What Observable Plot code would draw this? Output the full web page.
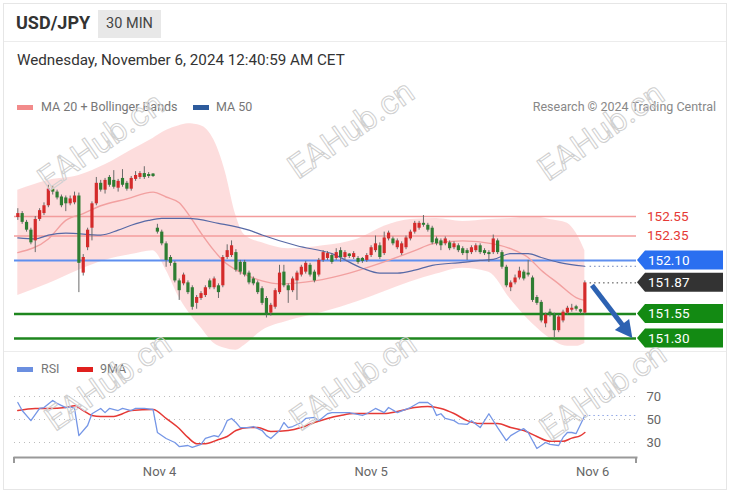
<!DOCTYPE html>
<html><head><meta charset="utf-8">
<script src="https://cdn.jsdelivr.net/npm/d3@7"></script>
<script src="https://cdn.jsdelivr.net/npm/@observablehq/plot@0.6"></script>
<style>
html,body{margin:0;padding:0;background:#fff;}
#page{position:relative;width:735px;height:495px;overflow:hidden;font-family:Roboto,"Liberation Sans",sans-serif;color:#333;}
#card{position:absolute;left:3px;top:3px;width:724px;height:487px;border:1px solid #e6e6e6;box-sizing:border-box;}
.hline{position:absolute;left:4px;width:722px;height:1px;background:#ececec;}
#pair{position:absolute;left:16px;top:12px;font-size:18px;font-weight:700;color:#333;}
#tf{position:absolute;left:98px;top:10px;width:63px;height:28px;background:#e8e8e8;font-size:14.5px;color:#444;text-align:center;line-height:28px;}
#date{position:absolute;left:17px;top:51px;font-size:15.2px;color:#333;white-space:nowrap;}
.lg{position:absolute;font-size:12.5px;color:#777;white-space:nowrap;line-height:14px;}
.sw{position:absolute;width:16px;height:5px;}
#main{position:absolute;left:0;top:115px;}
#rsi{position:absolute;left:0;top:375px;}
#wm{position:absolute;left:0;top:0;pointer-events:none;}
</style></head>
<body>
<div id="page">
  <div id="card"></div>
  <div class="hline" style="top:41px"></div>
  <div class="hline" style="top:351px"></div>
  <div id="pair">USD/JPY</div>
  <div id="tf">30 MIN</div>
  <div id="date">Wednesday, November 6, 2024 12:40:59 AM CET</div>
  <div class="sw" style="left:17px;top:105px;background:#f28b8b"></div>
  <div class="lg" style="left:41px;top:100px">MA 20 + Bollinger Bands</div>
  <div class="sw" style="left:193px;top:105px;background:#2d5b9c"></div>
  <div class="lg" style="left:216px;top:100px">MA 50</div>
  <div class="lg" style="right:19px;top:100px;color:#888">Research © 2024 Trading Central</div>
  <div class="sw" style="left:17px;top:367px;background:#6b8fe0"></div>
  <div class="lg" style="left:41px;top:362px">RSI</div>
  <div class="sw" style="left:77px;top:367px;background:#e0201e"></div>
  <div class="lg" style="left:100px;top:362px">9MA</div>
  <div id="main"></div>
  <div id="rsi"></div>
  <svg id="wm" width="735" height="495"></svg>
</div>
<script>
// ---------- data (30-min candles, index = bar number) ----------
const open = [152.54,152.58,152.49,152.41,152.30,152.52,152.58,152.66,152.83,152.80,
152.75,152.74,152.68,152.69,152.76,151.97,152.23,152.43,152.68,152.89,
152.82,152.95,152.92,152.84,152.94,152.89,152.83,152.93,152.95,152.99,
152.98,152.97,152.43,152.39,152.27,152.13,152.07,151.89,151.86,151.87,
151.82,151.66,151.71,151.74,151.89,151.82,151.84,151.84,152.13,152.15,
152.18,152.08,152.08,151.97,151.91,151.87,151.81,151.71,151.56,151.62,
151.77,151.98,151.84,151.79,151.89,151.95,151.98,152.05,151.98,151.95,
152.10,152.12,152.15,152.12,152.20,152.13,152.15,152.13,152.12,152.12,
152.10,152.15,152.20,152.25,152.17,152.32,152.32,152.23,152.17,152.23,
152.32,152.39,152.43,152.48,152.46,152.43,152.32,152.30,152.27,152.28,
152.23,152.25,152.22,152.20,152.18,152.20,152.25,152.20,152.18,152.18,
152.30,152.18,152.03,151.82,151.87,151.92,151.98,151.97,151.92,151.72,
151.67,151.45,151.57,151.54,151.38,151.48,151.56,151.59,151.61,151.58,
151.56];
const close = [152.58,152.49,152.41,152.28,152.52,152.61,152.66,152.83,152.80,152.74,
152.66,152.68,152.73,152.76,152.07,152.13,152.41,152.68,152.89,152.82,
152.92,152.87,152.85,152.91,152.87,152.83,152.94,152.97,152.99,152.95,
152.96,152.96,152.39,152.27,152.10,152.07,151.89,151.79,151.95,151.77,
151.62,151.72,151.76,151.82,151.82,151.91,151.77,152.13,152.20,152.25,
152.00,151.98,151.95,151.87,151.86,151.77,151.66,151.54,151.64,151.79,
151.97,151.84,151.79,151.91,151.97,152.03,152.07,151.95,151.89,152.10,
152.18,152.17,152.08,152.18,152.13,152.18,152.14,152.17,152.08,152.09,
152.15,152.23,152.27,152.13,152.33,152.38,152.27,152.30,152.27,152.33,
152.39,152.48,152.48,152.46,152.41,152.28,152.27,152.25,152.32,152.22,
152.27,152.20,152.17,152.17,152.23,152.25,152.18,152.17,152.16,152.32,
152.18,152.03,151.84,151.87,151.92,151.99,151.91,151.95,151.69,151.66,
151.48,151.54,151.55,151.38,151.52,151.57,151.61,151.61,151.60,151.57,
151.87];
const high = [152.63,152.60,152.51,152.43,152.55,152.63,152.69,152.87,152.86,152.82,
152.77,152.76,152.76,152.80,152.79,152.16,152.43,152.70,152.95,152.92,
152.94,152.97,153.02,152.93,153.03,152.91,152.96,153.01,153.01,153.06,
153.00,152.99,152.47,152.41,152.29,152.15,152.09,151.91,151.97,151.89,
151.84,151.74,151.78,151.84,151.91,151.93,151.86,152.15,152.26,152.30,
152.21,152.10,152.10,151.99,151.93,151.89,151.83,151.73,151.66,151.81,
152.05,152.05,151.86,151.93,151.99,152.05,152.09,152.07,152.00,152.12,
152.20,152.19,152.17,152.22,152.23,152.20,152.17,152.19,152.14,152.13,
152.17,152.25,152.35,152.28,152.39,152.40,152.34,152.32,152.29,152.35,
152.41,152.50,152.50,152.56,152.48,152.45,152.34,152.32,152.34,152.30,
152.29,152.27,152.24,152.22,152.25,152.27,152.27,152.22,152.20,152.36,
152.32,152.20,152.05,151.89,151.95,152.03,152.00,152.10,151.94,151.74,
151.69,151.56,151.60,151.56,151.54,151.59,151.63,151.65,151.64,151.60,
151.89];
const low = [152.51,152.47,152.39,152.26,152.18,152.50,152.56,152.64,152.77,152.72,
152.64,152.60,152.66,152.67,151.77,151.94,152.20,152.30,152.66,152.80,
152.78,152.85,152.83,152.80,152.85,152.81,152.81,152.91,152.93,152.93,
152.94,152.95,152.37,152.25,152.03,152.04,151.87,151.69,151.84,151.75,
151.59,151.60,151.69,151.72,151.80,151.80,151.71,151.82,152.11,152.13,
151.98,151.95,151.93,151.85,151.84,151.75,151.64,151.51,151.53,151.60,
151.75,151.82,151.66,151.77,151.69,151.93,151.96,151.93,151.87,151.93,
152.08,152.10,152.06,152.10,152.08,152.11,152.12,152.11,152.06,152.07,
152.08,152.13,152.18,152.11,152.15,152.30,152.25,152.21,152.15,152.21,
152.30,152.37,152.41,152.44,152.39,152.26,152.25,152.20,152.25,152.20,
152.21,152.18,152.15,152.10,152.16,152.18,152.16,152.15,152.08,152.16,
152.16,152.01,151.82,151.78,151.85,151.90,151.89,151.93,151.67,151.64,
151.46,151.41,151.52,151.31,151.36,151.46,151.54,151.57,151.58,151.55,
151.54];

// Bollinger bands (MA 20 +/- 2 sd), read at sample bars
const bbIdx   = [0,7,14,20,26,31,34,37,39,42,45,47.5,50,52,56,62,70,78,84,90,96,102,108,113,118,122,126,128,130];
const bbUpper = [152.82,152.92,152.97,153.08,153.23,153.35,153.43,153.48,153.50,153.48,153.33,153.02,152.56,152.36,152.28,152.22,152.25,152.32,152.45,152.52,152.53,152.50,152.52,152.53,152.55,152.52,152.48,152.38,152.20];
const bbLower = [151.74,151.86,152.00,152.10,152.16,152.20,152.00,151.72,151.58,151.41,151.25,151.20,151.18,151.23,151.38,151.48,151.57,151.68,151.78,151.88,151.96,152.02,151.98,151.70,151.45,151.30,151.22,151.22,151.25];

const ma20Idx = [0,7,11,15,19,25,31,34,37,39,42,45,47,51,56,60,68,76,83,91,95,102,109,113,117,120,124,128,130];
const ma20Val = [152.18,152.32,152.51,152.58,152.66,152.73,152.80,152.75,152.69,152.58,152.38,152.20,152.10,151.98,151.89,151.86,151.89,151.97,152.07,152.20,152.27,152.30,152.27,152.22,152.13,152.00,151.86,151.72,151.69];

const ma50Idx = [0,4,7,11,19,23,26,30,33,39,46,53,56,64,72,79,83,87,91,95,102,106,109,113,117,120,124,130];
const ma50Val = [152.33,152.32,152.36,152.38,152.36,152.41,152.46,152.51,152.53,152.53,152.48,152.41,152.36,152.25,152.17,152.02,151.97,151.97,152.00,152.05,152.08,152.10,152.11,152.17,152.17,152.13,152.08,152.04];

// key levels
const resistanceLevels = [152.55, 152.35];
const pivotLevels = [152.10];
const supportLevels = [151.55, 151.30];

// forecast arrow (bar, price)
const arrowFrom = [131.75, 151.84];
const arrowTo   = [141.0, 151.30];

// RSI panel
const rsiIdx = [0,1,3,5,6,8,9,11,12,13,14,16,17,19,20,21,23,24,26,27,29,31,32,34,36,37,39,40,42,43,45,46,47,48,49,50,51,53,54,56,57,58,60,61,62,63,65,66,68,69,71,72,74,76,79,80,82,84,85,87,90,92,94,95,96,97,98,100,101,103,104,106,108,110,112,113,115,116,117,118,119,121,122,124,125,126,127,128,130];
const rsiVal = [64.8,57.8,49,59.6,60.4,66.5,64,60.4,61,59.6,36,44.8,55,59.6,56,59.6,57.8,59.6,57.8,59.6,59.6,58.7,38.7,33.5,30,26.5,27.4,25.7,28.3,33.5,36,35,40.4,49,50.9,47.4,43,43,43.9,40.4,36,33.5,40.4,47.4,43,43.9,47.4,50.9,51.8,49,55,56,56,56,53.5,55,59.6,56,60.4,56,60.4,64.8,64.8,62,53.5,55,50.9,49,46.5,45.7,49,43,55,43,31.7,36,40.4,42,38.7,31.7,24.8,30,28.3,27.4,34.4,38.7,38.7,37.8,53.5];
const ma9Idx = [0,4,7,11,13,15,17,19,22,24,26,31,34,37,39,41,43,46,48,50,53,55,58,62,65,68,71,74,77,80,84,87,91,94,97,100,103,106,110,113,116,119,122,125,127,129,130];
const ma9Val = [57.8,59.6,59.6,60.4,62,57.8,53.5,52.6,52.6,55,57.8,58.7,51,42.2,34.4,29,29,32.6,35.2,40.4,43,43,39.6,40.4,43,47.4,50.9,53.5,55.2,55.2,55.2,57,60.4,61.3,59.6,55.2,49,46.5,46.5,43,40.4,35.2,31,31,33.8,36,38.7];
const rsiGrid = [30, 50, 70];

// time axis
const dayTickIdx = [32.5, 81, 131.8];
const dayTickLabels = ["Nov 4", "Nov 5", "Nov 6"];

// ---------- build ----------
const xMin = -0.76, xMax = 141.84;
const candles = open.map((o, i) => ({i, o, c: close[i], h: high[i], l: low[i]}));
const lastIdx = candles.length - 1;
const lastClose = close[lastIdx];
const bands = bbIdx.map((i, k) => ({i, up: bbUpper[k], lo: bbLower[k]}));
const ma20 = ma20Idx.map((i, k) => ({i, v: ma20Val[k]}));
const ma50 = ma50Idx.map((i, k) => ({i, v: ma50Val[k]}));
const ma50Last = ma50Val[ma50Val.length - 1];
const rsi = rsiIdx.map((i, k) => ({i, v: rsiVal[k]}));
const ma9 = ma9Idx.map((i, k) => ({i, v: ma9Val[k]}));
const rsiLast = rsiVal[rsiVal.length - 1];
const UP = "#d42b2b", DOWN = "#2e7d32";
const font = "Roboto, 'Liberation Sans', sans-serif";

const main = Plot.plot({
  width: 735, height: 236,
  marginLeft: 14, marginRight: 99, marginTop: 0, marginBottom: 0,
  style: {fontFamily: font, background: "transparent", overflow: "visible"},
  x: {domain: [xMin, xMax], axis: null, label: null},
  y: {domain: [151.30, 152.55], range: [223, 101], axis: null, label: null},
  marks: [
    Plot.areaY(bands, {x: "i", y1: "lo", y2: "up", fill: "#fdd9d9", fillOpacity: 0.9, curve: "monotone-x"}),
    Plot.ruleY(resistanceLevels, {stroke: "#f39c9c", strokeWidth: 1.5}),
    Plot.ruleY(pivotLevels, {stroke: "#5f8fef", strokeWidth: 2}),
    Plot.ruleY(supportLevels, {stroke: "#1e861e", strokeWidth: 2.5}),
    Plot.line(ma20, {x: "i", y: "v", stroke: "#f2a0a0", strokeWidth: 1.4, curve: "monotone-x"}),
    Plot.line(ma50, {x: "i", y: "v", stroke: "#5769a6", strokeWidth: 1.2, curve: "monotone-x"}),
    Plot.ruleX(candles, {x: "i", y1: "l", y2: "h", stroke: "#6a6a6a", strokeWidth: 1}),
    Plot.ruleX(candles, {x: "i", y1: d => Math.min(d.o, d.c), y2: d => Math.max(d.o, d.c) + (Math.abs(d.o - d.c) < 0.015 ? 0.015 : 0),
      stroke: d => d.c >= d.o ? UP : DOWN, strokeWidth: 3.2}),
    Plot.ruleY([ma50Last], {x1: lastIdx + 1.2, x2: xMax, stroke: "#6a7fb5", strokeDasharray: "1.5,3"}),
    Plot.ruleY([lastClose], {x1: lastIdx + 1.2, x2: xMax, stroke: "#444", strokeDasharray: "1.5,3"})
  ]
});
document.getElementById("main").appendChild(main);

const ys = main.scale("y"), xsM = main.scale("x");
// forecast arrow: thick shaft + filled head, positioned with the plot's scales
{
  const ax1 = xsM.apply(arrowFrom[0]), ay1 = ys.apply(arrowFrom[1]);
  const ax2 = xsM.apply(arrowTo[0]), ay2 = ys.apply(arrowTo[1]);
  const len = Math.hypot(ax2 - ax1, ay2 - ay1), ux = (ax2 - ax1) / len, uy = (ay2 - ay1) / len;
  const hl = 17, hw = 9;
  const bx = ax2 - ux * hl, by = ay2 - uy * hl;
  const a = d3.select(main).append("g").attr("fill", "#2d62b2").attr("stroke", "#2d62b2");
  a.append("line").attr("x1", ax1).attr("y1", ay1).attr("x2", bx + ux * 2).attr("y2", by + uy * 2).attr("stroke-width", 5).attr("stroke-linecap", "butt");
  a.append("path").attr("stroke", "none").attr("d", `M${ax2},${ay2} L${bx - uy * hw},${by + ux * hw} L${bx + uy * hw},${by - ux * hw} Z`);
}

// price tags on the right
const g = d3.select(main).append("g").attr("font-family", font).attr("font-size", 13.5).attr("text-anchor", "start");
const tags = [
  ...resistanceLevels.map(v => ({v, kind: "res"})),
  ...pivotLevels.map(v => ({v, kind: "tag", fill: "#2a6ff0"})),
  {v: lastClose, kind: "tag", fill: "#333333"},
  ...supportLevels.map(v => ({v, kind: "tag", fill: "#138a13"}))
];
const xr = 636;
for (const t of tags) {
  const y = ys.apply(t.v);
  if (t.kind === "res") {
    g.append("text").attr("x", xr + 11).attr("y", y).attr("dy", "0.36em").attr("text-anchor", "start").attr("fill", "#e53935").text(t.v.toFixed(2));
  } else {
    g.append("path").attr("d", `M${xr+1},${y} L${xr+9},${y-9.5} L${xr+87},${y-9.5} L${xr+87},${y+9.5} L${xr+9},${y+9.5} Z`).attr("fill", t.fill);
    g.append("text").attr("x", xr + 12).attr("y", y).attr("dy", "0.36em").attr("text-anchor", "start").attr("fill", "#fff").text(t.v.toFixed(2));
  }
}

const labelFor = new Map(dayTickIdx.map((d, i) => [d, dayTickLabels[i]]));
const rsiPlot = Plot.plot({
  width: 735, height: 115,
  marginLeft: 14, marginRight: 99, marginTop: 0, marginBottom: 33,
  style: {fontFamily: font, background: "transparent", overflow: "visible"},
  x: {domain: [xMin, xMax], label: null},
  y: {domain: [30, 70], range: [67, 21], axis: null, label: null},
  marks: [
    Plot.ruleY(rsiGrid, {stroke: "#bdbdbd", strokeDasharray: "1,4"}),
    Plot.line(ma9, {x: "i", y: "v", stroke: "#e53935", strokeWidth: 1.5, curve: "monotone-x"}),
    Plot.line(rsi, {x: "i", y: "v", stroke: "#7596e6", strokeWidth: 1.3}),
    Plot.ruleY([rsiLast], {x1: lastIdx, x2: xMax, stroke: "#8ea5e6", strokeDasharray: "1.5,3"}),
    Plot.text(rsiGrid, {x: xMax, y: d => d, text: d => String(d), dx: 10, textAnchor: "start", fill: "#666", fontSize: 13}),
    Plot.frame({anchor: "bottom", stroke: "#999", strokeWidth: 2}),
    Plot.axisX(dayTickIdx, {tickSize: 0, tickPadding: 9, tickFormat: d => labelFor.get(d), fontSize: 13, fill: "#666", label: null})
  ]
});
document.getElementById("rsi").appendChild(rsiPlot);
// end ticks of the time axis
const xs = rsiPlot.scale("x");
const rg = d3.select(rsiPlot).append("g").attr("stroke", "#999").attr("stroke-width", 2);
for (const v of [xMin, xMax]) {
  const x = xs.apply(v);
  rg.append("line").attr("x1", x).attr("x2", x).attr("y1", 82).attr("y2", 88);
}

// watermarks
const wmPos = [[48,192],[298,180],[548,182],[55,432],[300,432],[550,442]];
const wm = d3.select("#wm");
for (const [x, y] of wmPos) {
  wm.append("text").attr("x", x).attr("y", y).attr("transform", `rotate(-35 ${x} ${y})`)
    .attr("font-family", font).attr("font-size", 33).attr("fill", "none")
    .attr("stroke", "#cfcfcf").attr("stroke-width", 1).text("EAHub.cn");
}
</script>
</body></html>
